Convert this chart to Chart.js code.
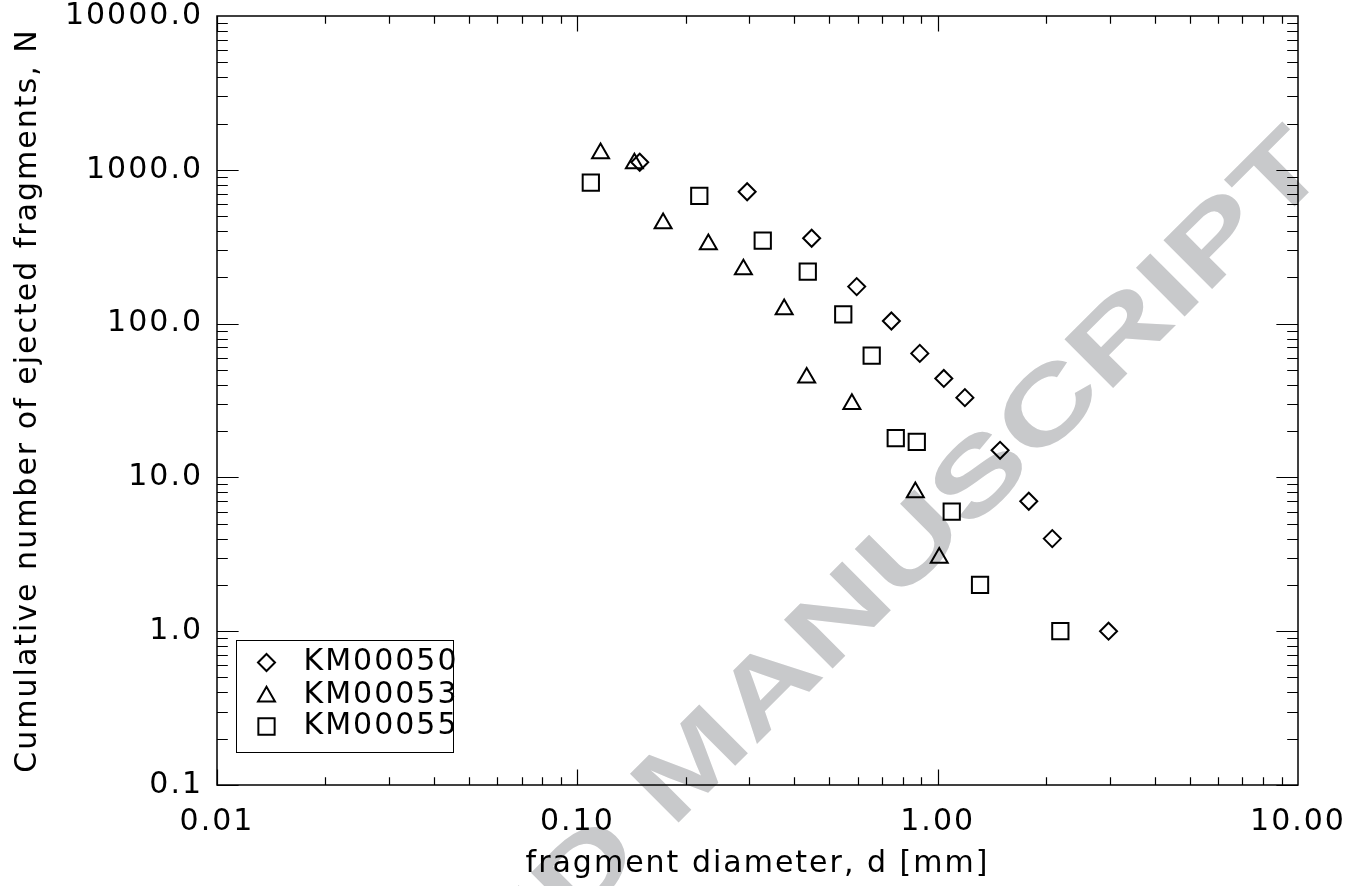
<!DOCTYPE html>
<html>
<head>
<meta charset="utf-8">
<script src="https://cdn.jsdelivr.net/npm/chart.js@4.4.1/dist/chart.umd.min.js"></script>
<style>
  html, body { margin: 0; padding: 0; background: #fff; }
  #wrap { width: 1348px; height: 886px; }
</style>
</head>
<body>
<div id="wrap"><canvas id="fragChart" width="1348" height="886"></canvas></div>
<script>
const SERIES_NAMES = ["KM00050", "KM00053", "KM00055"];

// fragment diameter d [mm] and cumulative count N
const KM00050_D = [0.149, 0.296, 0.447, 0.596, 0.744, 0.892, 1.04, 1.19, 1.49, 1.79, 2.08, 2.98];
const KM00050_N = [1120, 720, 359, 174, 104, 64, 44, 33, 15, 7, 4, 1];

const KM00053_D = [0.116, 0.144, 0.173, 0.231, 0.289, 0.375, 0.433, 0.578, 0.867, 1.01];
const KM00053_N = [1280, 1100, 449, 328, 225, 124, 44.5, 30, 8, 3];

const KM00055_D = [0.109, 0.218, 0.327, 0.436, 0.547, 0.656, 0.765, 0.875, 1.094, 1.311, 2.19];
const KM00055_N = [824, 678, 346, 218, 115, 62, 18, 17, 6, 2, 1];

const X_TICKS = [0.01, 0.1, 1, 10];
const X_TICK_LABELS = ["0.01", "0.10", "1.00", "10.00"];
const Y_TICKS = [0.1, 1, 10, 100, 1000, 10000];
const Y_TICK_LABELS = ["0.1", "1.0", "10.0", "100.0", "1000.0", "10000.0"];

const X_TITLE = "fragment diameter, d [mm]";
const Y_TITLE = "Cumulative number of ejected fragments, N";
const WATERMARK = "ACCEPTED MANUSCRIPT";

const FONT = "'DejaVu Sans', sans-serif";
const LETTER_SPACING = "2px";

function toPoints(xs, ys) {
  return xs.map((x, i) => ({ x, y: ys[i] }));
}

function markerDataset(label, xs, ys, style, radius) {
  return {
    label,
    data: toPoints(xs, ys),
    pointStyle: style,
    pointRadius: radius,
    pointHoverRadius: radius,
    borderColor: "#000",
    backgroundColor: "rgba(0,0,0,0)",
    pointBorderWidth: 2,
    borderWidth: 2,
    showLine: false,
  };
}

function noOverhang(scale) {
  scale.paddingLeft = 0;
  scale.paddingRight = 0;
  scale.paddingTop = 0;
  scale.paddingBottom = 0;
}

const spacingPlugin = {
  id: "spacing",
  beforeUpdate(chart) { chart.ctx.letterSpacing = LETTER_SPACING; },
  beforeLayout(chart) { chart.ctx.letterSpacing = LETTER_SPACING; },
  beforeDraw(chart) { chart.ctx.letterSpacing = LETTER_SPACING; },
};

// grey diagonal stamp behind everything
const watermarkPlugin = {
  id: "watermark",
  beforeDraw(chart) {
    const { ctx, width, height } = chart;
    ctx.save();
    ctx.fillStyle = "#fff";
    ctx.fillRect(0, 0, width, height);
    ctx.letterSpacing = "0px";
    ctx.translate(1332, 169);
    ctx.rotate(-Math.PI / 4);
    ctx.scale(1.4, 1);
    ctx.font = "bold 100px 'Liberation Sans', Arial, sans-serif";
    ctx.fillStyle = "#c8c9cb";
    ctx.textAlign = "right";
    ctx.textBaseline = "alphabetic";
    ctx.fillText(WATERMARK, 0, 0);
    ctx.restore();
  },
};

// box frame with inward ticks on all four sides (IDL style)
const framePlugin = {
  id: "frame",
  afterDatasetsDraw(chart) {
    const { ctx, chartArea } = chart;
    const { left, right, top, bottom } = chartArea;
    const xs = chart.scales.x;
    const ys = chart.scales.y;
    const xMajor = (bottom - top) * 0.02;
    const yMajor = (right - left) * 0.02;

    ctx.save();
    ctx.strokeStyle = "#000";
    ctx.lineWidth = 1.5;
    ctx.strokeRect(left, top, right - left, bottom - top);

    ctx.lineWidth = 1.2;
    ctx.beginPath();
    for (let e = Math.floor(Math.log10(xs.min)); e < Math.log10(xs.max); e++) {
      for (let m = 1; m <= 9; m++) {
        const v = m * Math.pow(10, e);
        if (v < xs.min || v > xs.max) continue;
        const px = Math.round(xs.getPixelForValue(v)) + 0.5;
        const len = m === 1 ? xMajor : xMajor / 2;
        ctx.moveTo(px, bottom);
        ctx.lineTo(px, bottom - len);
        ctx.moveTo(px, top);
        ctx.lineTo(px, top + len);
      }
    }
    for (let e = Math.floor(Math.log10(ys.min)); e < Math.log10(ys.max); e++) {
      for (let m = 1; m <= 9; m++) {
        const v = m * Math.pow(10, e);
        if (v < ys.min || v > ys.max) continue;
        const py = Math.round(ys.getPixelForValue(v)) + 0.5;
        const len = m === 1 ? yMajor : yMajor / 2;
        ctx.moveTo(left, py);
        ctx.lineTo(left + len, py);
        ctx.moveTo(right, py);
        ctx.lineTo(right - len, py);
      }
    }
    ctx.stroke();
    ctx.restore();
  },
};

// boxed legend in the lower-left corner of the plot
const boxLegendPlugin = {
  id: "boxLegend",
  afterDatasetsDraw(chart) {
    const { ctx, chartArea } = chart;
    const bx = chartArea.left + 19.5;
    const by = chartArea.bottom - 144.5;
    const rowY = [22, 56, 86];
    const textY = [22, 55, 86];

    ctx.save();
    ctx.strokeStyle = "#000";
    ctx.lineWidth = 1;
    ctx.strokeRect(bx, by, 217, 112);

    chart.data.datasets.forEach((ds, i) => {
      ctx.strokeStyle = "#000";
      ctx.fillStyle = "rgba(0,0,0,0)";
      ctx.lineWidth = 2;
      Chart.helpers.drawPoint(ctx, {
        pointStyle: ds.pointStyle,
        radius: ds.pointRadius,
        rotation: 0,
        borderWidth: 2,
      }, bx + 30, by + rowY[i]);

      ctx.fillStyle = "#000";
      ctx.font = "30px " + FONT;
      ctx.textAlign = "left";
      ctx.textBaseline = "middle";
      ctx.fillText(SERIES_NAMES[i], bx + 67, by + textY[i]);
    });
    ctx.restore();
  },
};

const chart = new Chart(document.getElementById("fragChart"), {
  type: "scatter",
  data: {
    datasets: [
      markerDataset(SERIES_NAMES[0], KM00050_D, KM00050_N, "rectRot", 8.5),
      markerDataset(SERIES_NAMES[1], KM00053_D, KM00053_N, "triangle", 9.8),
      markerDataset(SERIES_NAMES[2], KM00055_D, KM00055_N, "rect", 11.5),
    ],
  },
  options: {
    responsive: false,
    devicePixelRatio: 1,
    animation: false,
    events: [],
    layout: { padding: { left: 0, top: 16, right: 50, bottom: 0 } },
    plugins: {
      legend: { display: false },
      tooltip: { enabled: false },
    },
    scales: {
      x: {
        type: "logarithmic",
        position: "bottom",
        min: 0.01,
        max: 10,
        grid: { display: false, drawTicks: false },
        border: { display: false },
        afterBuildTicks(scale) {
          scale.ticks = X_TICKS.map((v) => ({ value: v, major: true }));
        },
        afterFit(scale) {
          scale.height = 101;
          noOverhang(scale);
        },
        ticks: {
          autoSkip: false,
          maxRotation: 0,
          padding: 19,
          color: "#000",
          font: { family: FONT, size: 30 },
          callback(value, index) {
            return X_TICK_LABELS[index];
          },
        },
        title: {
          display: true,
          text: X_TITLE,
          color: "#000",
          font: { family: FONT, size: 30 },
          padding: { top: 0, bottom: 4 },
        },
      },
      y: {
        type: "logarithmic",
        position: "left",
        min: 0.1,
        max: 10000,
        grid: { display: false, drawTicks: false },
        border: { display: false },
        afterBuildTicks(scale) {
          scale.ticks = Y_TICKS.map((v) => ({ value: v, major: true }));
        },
        afterFit(scale) {
          scale.width = 217;
          noOverhang(scale);
        },
        ticks: {
          autoSkip: false,
          padding: 14,
          color: "#000",
          font: { family: FONT, size: 30 },
          callback(value, index) {
            return Y_TICK_LABELS[index];
          },
        },
        title: {
          display: true,
          text: Y_TITLE,
          color: "#000",
          font: { family: FONT, size: 30 },
          padding: { top: 10, bottom: 0 },
        },
      },
    },
  },
  plugins: [spacingPlugin, watermarkPlugin, framePlugin, boxLegendPlugin],
});
</script>
</body>
</html>
